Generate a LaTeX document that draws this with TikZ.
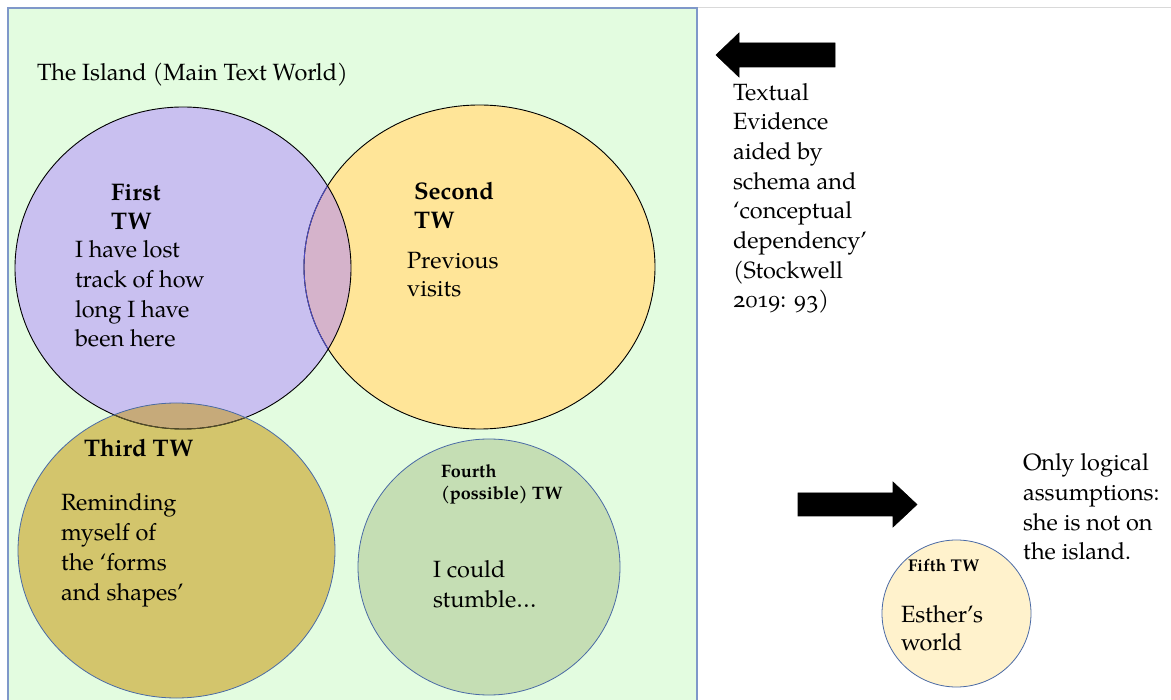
\documentclass[tikz,border=0pt]{standalone}
\usepackage{fontspec}
\setmainfont{TeX Gyre Pagella}[Numbers=OldStyle]

\definecolor{islandbg}{HTML}{E3FCE0}
\definecolor{islandline}{HTML}{7F98C9}
\definecolor{twone}{HTML}{C9C0F0}
\definecolor{twtwo}{HTML}{FFE598}
\definecolor{lensonetwo}{HTML}{D5B3CB}
\definecolor{twthree}{HTML}{D3C56C}
\definecolor{lensonethree}{HTML}{C6AA7A}
\definecolor{twfour}{HTML}{C5DEB4}
\definecolor{twfive}{HTML}{FFF2CC}
\definecolor{twline}{HTML}{4A6AA5}
\definecolor{pageline}{HTML}{D9D9D9}

% multi-line nodes are placed by the baseline of their last line
\tikzset{
  body/.style={anchor=base west, inner sep=0pt, outer sep=0pt, align=left,
    font=\fontsize{23.5}{29.7}\selectfont},
  tightbody/.style={body, font=\fontsize{23.5}{28}\selectfont},
  head/.style={body, font=\fontsize{24}{29}\selectfont\bfseries},
  smallhead/.style={body, font=\fontsize{18}{22}\selectfont\bfseries},
  tinyhead/.style={body, font=\fontsize{17}{20}\selectfont\bfseries},
  blockarrow/.style={fill=black, draw=black, line width=0.6pt, line join=miter},
}

% circle outlines of the text worlds
\def\worldone{(183,268) ellipse [x radius=168, y radius=161]}
\def\worldtwo{(479.5,267) ellipse [x radius=175.5, y radius=162]}
\def\worldthree{(176.5,550.5) ellipse [x radius=158.5, y radius=147.5]}
\def\worldfour{(489,567) ellipse [x radius=131, y radius=128]}
\def\worldfive{(956.5,613.5) ellipse [x radius=74.5, y radius=73.5]}

\begin{document}
\begin{tikzpicture}[x=1pt, y=-1pt]
\useasboundingbox (0,0) rectangle (1171,700);
\clip (0,0) rectangle (1171,700);
\fill[white] (0,0) rectangle (1171,700);

% page edge and the island frame
\draw[pageline, line width=0.8pt] (697,7.5) -- (1171,7.5);
\draw[islandline, fill=islandbg, line width=1.4pt] (8,8) rectangle (697,710);

% fills
\fill[twone] \worldone;
\fill[twtwo] \worldtwo;
\fill[twthree] \worldthree;
\begin{scope}
  \clip \worldone;
  \fill[lensonetwo] \worldtwo;
  \fill[lensonethree] \worldthree;
\end{scope}

% outlines
\draw[black, line width=0.9pt] \worldtwo;
\begin{scope}
  \clip \worldone;
  \draw[black!35!twone!60!blue, line width=0.9pt] \worldtwo;
\end{scope}
\draw[black, line width=0.9pt] \worldone;
\begin{scope}
  \clip \worldthree;
  \draw[black!60!twthree, line width=0.9pt] \worldone;
\end{scope}
\draw[twline, line width=0.8pt] \worldthree;
\draw[twline, fill=twfour, line width=0.8pt] \worldfour;
\draw[twline, fill=twfive, line width=0.8pt] \worldfive;

% block arrows
\fill[blockarrow] (716,55) -- (739,33) -- (739,43) -- (835,43) -- (835,67)
  -- (739,67) -- (739,77) -- cycle;
\fill[blockarrow] (798,493) -- (893,493) -- (893,482) -- (917,504.5)
  -- (893,527) -- (893,516) -- (798,516) -- cycle;

% texts
\node[body] (island) at (37,81) {The Island (Main Text World)};

\node[head] (h1) at (111,230) {First\\TW};
\node[body] (t1) at (75,347) {I have lost\\track of how\\long I have\\been here};

\node[head] (h2) at (414,229) {Second\\TW};
\node[tightbody] (t2) at (407,297) {Previous\\visits};

\node[head] (h3) at (84,457) {Third TW};
\node[body] (t3) at (61,600) {Reminding\\myself of\\the ‘forms\\and shapes’};

\node[smallhead] (h4) at (441,500) {Fourth\\(possible) TW};
\node[body] (t4) at (433,607) {I could\\stumble…};

\node[tinyhead] (h5) at (908,572) {Fifth TW};
\node[tightbody] (t5) at (901,650) {Esther’s\\world};

\node[body] (evidence) at (733,308) {Textual\\Evidence\\aided by\\schema and\\‘conceptual\\dependency’\\(Stockwell\\2019: 93)};
\node[body] (logic) at (1023,560) {Only logical\\assumptions:\\she is not on\\the island.};
\end{tikzpicture}
\end{document}
